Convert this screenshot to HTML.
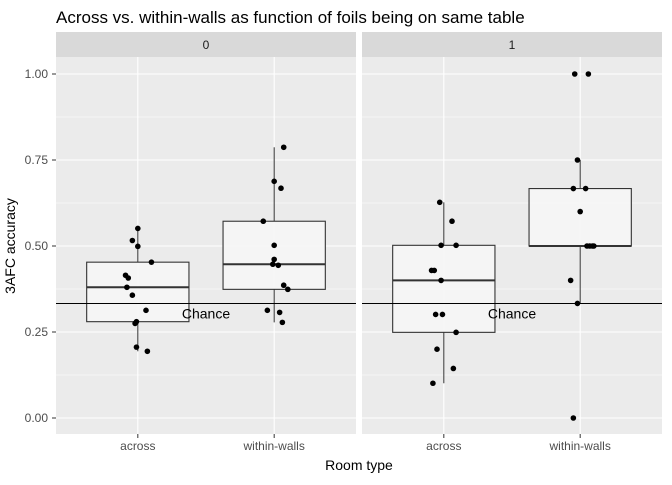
<!DOCTYPE html>
<html><head><meta charset="utf-8"><style>
body{margin:0;background:#fff;}
text{font-family:"Liberation Sans",Arial,sans-serif;}
</style></head><body>
<svg id="chart" width="672" height="480" xmlns="http://www.w3.org/2000/svg">
<rect width="672" height="480" fill="#fff"/>
<text x="56" y="23" font-size="17" fill="#000">Across vs. within-walls as function of foils being on same table</text>
<g id="g"></g>
<text x="359" y="470" font-size="14" text-anchor="middle" fill="#000">Room type</text>
<text transform="translate(15,246) rotate(-90)" font-size="14" text-anchor="middle" fill="#000">3AFC accuracy</text>
</svg>
<script>
const facets = ["0","1"];
const categories = ["across","within-walls"];
const yTicks = [0,0.25,0.5,0.75,1];
const yTickLabels = ["0.00","0.25","0.50","0.75","1.00"];
const chance = 0.333;
const f0Across = [0.551,0.516,0.499,0.453,0.415,0.407,0.380,0.357,0.313,0.280,0.275,0.206,0.194];
const f0AcrossJit = [0.00,-0.04,0.00,0.10,-0.09,-0.07,-0.08,-0.04,0.06,-0.01,-0.02,-0.01,0.07];
const f0Within = [0.787,0.688,0.668,0.572,0.502,0.461,0.447,0.444,0.386,0.374,0.313,0.307,0.278];
const f0WithinJit = [0.07,0.00,0.05,-0.08,0.00,0.00,-0.01,0.03,0.07,0.10,-0.05,0.04,0.06];
const f1Across = [0.627,0.572,0.502,0.502,0.429,0.429,0.400,0.301,0.301,0.249,0.200,0.144,0.101];
const f1AcrossJit = [-0.03,0.06,-0.02,0.09,-0.09,-0.07,-0.02,-0.06,-0.01,0.09,-0.05,0.07,-0.08];
const f1Within = [1.0,1.0,0.75,0.667,0.667,0.6,0.5,0.5,0.5,0.5,0.4,0.333,0];
const f1WithinJit = [-0.04,0.06,-0.02,-0.05,0.04,0.00,0.05,0.07,0.09,0.10,-0.07,-0.02,-0.05];
const series = [[f0Across,f0Within],[f1Across,f1Within]];
const jitters = [[f0AcrossJit,f0WithinJit],[f1AcrossJit,f1WithinJit]];

const NS="http://www.w3.org/2000/svg";
const g=document.getElementById('g');
const panelX=[56,362], panelW=300, pTop=57, pBot=434, stripTop=32;
const yS=v=>418-v*344;
const xS=(p,c)=>panelX[p]+(c+1-0.4)/2.2*panelW;
const bw=0.75/2.2*panelW;
function mk(t,a,p){const e=document.createElementNS(NS,t);for(const k in a)e.setAttribute(k,a[k]);(p||g).appendChild(e);return e;}
function q(s,p){const h=(s.length-1)*p,l=Math.floor(h);return s[l]+(h-l)*((s[Math.min(l+1,s.length-1)])-s[l]);}

yTicks.forEach((v,i)=>{
  const t=mk('text',{x:48,y:yS(v)+4,'font-size':12,fill:'#4D4D4D','text-anchor':'end'});t.textContent=yTickLabels[i];
  
  
  mk('line',{x1:52,x2:56,y1:yS(v),y2:yS(v),stroke:'#333','stroke-width':1});
});

facets.forEach((f,p)=>{
  const x0=panelX[p];
  const strip=mk('rect',{x:x0,y:stripTop,width:panelW,height:pTop-stripTop,fill:'#D9D9D9'});
  
  
  const st=mk('text',{x:x0+panelW/2,y:49,'font-size':12,fill:'#1A1A1A','text-anchor':'middle'});st.textContent=f;
  
  
  const pan=mk('rect',{x:x0,y:pTop,width:panelW,height:pBot-pTop,fill:'#EBEBEB'});
  
  
  for(let i=0;i<yTicks.length-1;i++){const m=(yTicks[i]+yTicks[i+1])/2;mk('line',{x1:x0,x2:x0+panelW,y1:yS(m),y2:yS(m),stroke:'#fff','stroke-width':0.5});}
  yTicks.forEach(v=>mk('line',{x1:x0,x2:x0+panelW,y1:yS(v),y2:yS(v),stroke:'#fff','stroke-width':1.1}));
  categories.forEach((c,ci)=>{
    const cx=xS(p,ci);
    mk('line',{x1:cx,x2:cx,y1:pTop,y2:pBot,stroke:'#fff','stroke-width':1.1});
    mk('line',{x1:cx,x2:cx,y1:pBot,y2:pBot+4,stroke:'#333'});
    const tl=mk('text',{x:cx,y:pBot+16,'font-size':12,fill:'#4D4D4D','text-anchor':'middle'});tl.textContent=c;
    
    
    const d=series[p][ci], s=[...d].sort((a,b)=>a-b);
    const q1=q(s,0.25),md=q(s,0.5),q3=q(s,0.75),iqr=q3-q1;
    const lo=Math.min(...s.filter(v=>v>=q1-1.5*iqr)),hi=Math.max(...s.filter(v=>v<=q3+1.5*iqr));
    const bg=mk('g',{});
    
    
    mk('line',{x1:cx,x2:cx,y1:yS(hi),y2:yS(q3),stroke:'#333','stroke-width':1},bg);
    mk('line',{x1:cx,x2:cx,y1:yS(q1),y2:yS(lo),stroke:'#333','stroke-width':1},bg);
    mk('rect',{x:cx-bw/2,y:yS(q3),width:bw,height:yS(q1)-yS(q3),fill:'#F5F5F5','fill-opacity':0.95,stroke:'#333','stroke-width':1.1},bg);
    mk('line',{x1:cx-bw/2,x2:cx+bw/2,y1:yS(md),y2:yS(md),stroke:'#333','stroke-width':2},bg);
  });
  const hl=mk('line',{x1:x0,x2:x0+panelW,y1:yS(chance),y2:yS(chance),stroke:'#000','stroke-width':1});
  
  
  const ct=mk('text',{x:xS(p,0.5),y:yS(chance)+15,'font-size':14,fill:'#000','text-anchor':'middle'});ct.textContent='Chance';
  
  
  categories.forEach((c,ci)=>{
    series[p][ci].forEach((v,i)=>{
      const pt=mk('circle',{cx:xS(p,ci+jitters[p][ci][i]),cy:yS(v),r:2.8,fill:'#000'});
      
      
    });
  });
});
</script>
</body></html>
